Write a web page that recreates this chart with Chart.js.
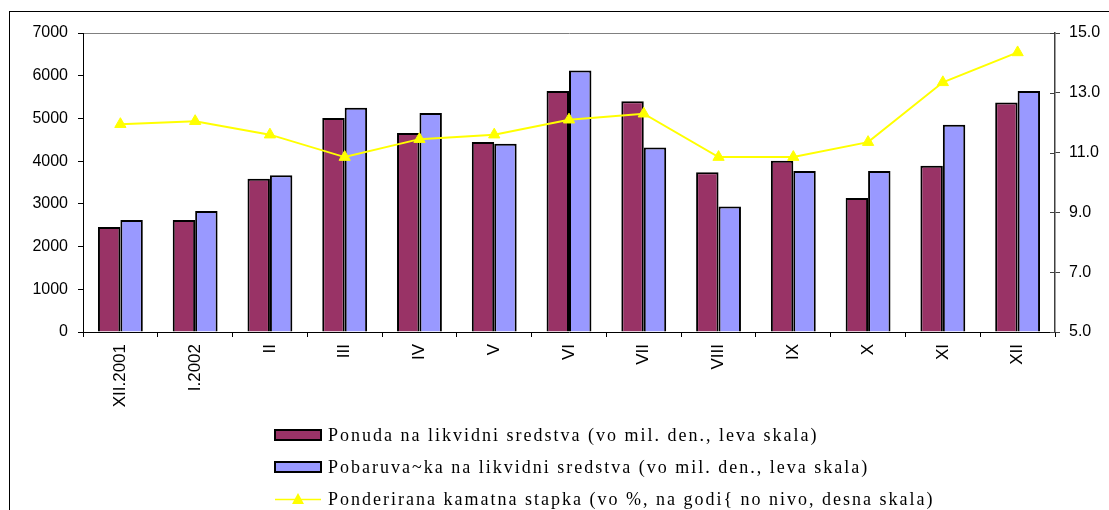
<!DOCTYPE html>
<html>
<head>
<meta charset="utf-8">
<script src="https://cdn.jsdelivr.net/npm/chart.js@4/dist/chart.umd.min.js"></script>
<style>
  html, body { margin: 0; padding: 0; background: #fff; }
  #wrap { width: 1109px; height: 510px; position: relative; }
</style>
</head>
<body>
<div id="wrap"><canvas id="c" width="1109" height="510"></canvas></div>
<script>
const categories = ['XII.2001', 'I.2002', 'II', 'III', 'IV', 'V', 'VI', 'VII', 'VIII', 'IX', 'X', 'XI', 'XII'];
const supplyValues = [2460, 2620, 3590, 5010, 4660, 4450, 5640, 5400, 3740, 4010, 3140, 3890, 5370];
const demandValues = [2620, 2830, 3670, 5250, 5130, 4410, 6120, 4320, 2940, 3770, 3770, 4850, 5640];
const rateValues = [11.95, 12.05, 11.6, 10.85, 11.45, 11.6, 12.1, 12.3, 10.85, 10.85, 11.35, 13.35, 14.35];
const leftAxisRange = [0, 7000, 1000];
const rightAxisRange = [5, 15, 2];
const seriesNames = [
  'Ponuda na likvidni sredstva (vo mil. den., leva skala)',
  'Pobaruva~ka na likvidni sredstva (vo mil. den., leva skala)',
  'Ponderirana kamatna stapka (vo %, na godi{ no nivo, desna skala)'
];

const frame = {
  id: 'frame',
  beforeDraw(chart) {
    const ctx = chart.ctx;
    ctx.save();
    ctx.fillStyle = '#fff';
    ctx.fillRect(0, 0, chart.width, chart.height);
    ctx.strokeStyle = '#000';
    ctx.lineWidth = 1;
    ctx.strokeRect(9.5, 11.5, 1300, 700);
    ctx.restore();
  },
  afterDraw(chart) {
    const ctx = chart.ctx;
    const ys = chart.scales.yR;
    ctx.save();
    ctx.strokeStyle = '#404040';
    ctx.lineWidth = 1;
    ys.ticks.forEach(t => {
      const y = Math.round(ys.getPixelForValue(t.value)) + 0.5;
      ctx.beginPath();
      ctx.moveTo(ys.left - 5, y);
      ctx.lineTo(ys.left, y);
      ctx.stroke();
    });
    const rows = [435, 467, 499];
    const x0 = 275, w = 46;
    ctx.font = '18px "Liberation Serif", "Times New Roman", serif';
    ctx.textBaseline = 'middle';
    ctx.textAlign = 'left';
    try { ctx.letterSpacing = '2px'; } catch (e) {}
    chart.data.datasets.forEach((ds, i) => {
      const y = rows[i];
      if (ds.type === 'line') {
        ctx.strokeStyle = ds.borderColor;
        ctx.lineWidth = 1.5;
        ctx.beginPath();
        ctx.moveTo(x0, y + 0.5);
        ctx.lineTo(x0 + w, y + 0.5);
        ctx.stroke();
        ctx.fillStyle = ds.pointBackgroundColor;
        ctx.beginPath();
        ctx.moveTo(x0 + w / 2, y - 6);
        ctx.lineTo(x0 + w / 2 + 6, y + 5);
        ctx.lineTo(x0 + w / 2 - 6, y + 5);
        ctx.closePath();
        ctx.fill();
      } else {
        ctx.fillStyle = ds.backgroundColor;
        ctx.fillRect(x0, y - 5, w, 10);
        ctx.strokeStyle = '#000';
        ctx.lineWidth = 2;
        ctx.strokeRect(x0, y - 5, w, 10);
      }
      ctx.fillStyle = '#000';
      ctx.fillText(ds.label, 328, y + 1);
    });
    ctx.restore();
  }
};

new Chart(document.getElementById('c'), {
  data: {
    labels: categories,
    datasets: [
      {
        type: 'bar', label: seriesNames[0], data: supplyValues, yAxisID: 'yL',
        backgroundColor: '#993366', borderColor: '#000', borderWidth: 2,
        categoryPercentage: 0.6, barPercentage: 1.0, order: 2
      },
      {
        type: 'bar', label: seriesNames[1], data: demandValues, yAxisID: 'yL',
        backgroundColor: '#9999FF', borderColor: '#000', borderWidth: 2,
        categoryPercentage: 0.6, barPercentage: 1.0, order: 2
      },
      {
        type: 'line', label: seriesNames[2], data: rateValues, yAxisID: 'yR',
        borderColor: '#FFFF00', borderWidth: 2, pointStyle: 'triangle',
        pointRadius: 6.5, pointBackgroundColor: '#FFFF00', pointBorderColor: '#FFFF00',
        pointBorderWidth: 1, tension: 0, fill: false, order: 1
      }
    ]
  },
  options: {
    responsive: false,
    animation: false,
    layout: { padding: { top: 33, left: 0, right: 0, bottom: 0 } },
    plugins: { legend: { display: false }, tooltip: { enabled: false }, title: { display: false } },
    scales: {
      x: {
        offset: true,
        grid: { offset: true, drawOnChartArea: false, tickLength: 5, tickColor: '#000' },
        border: { color: '#000', width: 1 },
        ticks: {
          minRotation: 90, maxRotation: 90, autoSkip: false, padding: 7,
          color: '#000', font: { family: 'Liberation Sans', size: 17 }
        },
        afterFit(s) { s.height = 178; }
      },
      yL: {
        position: 'left',
        min: leftAxisRange[0], max: leftAxisRange[1],
        grid: {
          color: c => (c.tick && c.tick.value === leftAxisRange[1]) ? '#808080' : 'rgba(0,0,0,0)',
          tickColor: '#000', tickLength: 5, lineWidth: 1
        },
        border: { color: '#000', width: 1 },
        ticks: {
          stepSize: leftAxisRange[2], padding: 10, color: '#000',
          font: { family: 'Liberation Sans', size: 16 },
          callback: v => String(v)
        },
        afterFit(s) { s.width = 83; }
      },
      yR: {
        position: 'right',
        min: rightAxisRange[0], max: rightAxisRange[1],
        grid: { drawOnChartArea: false, tickColor: '#404040', tickLength: 5 },
        border: { color: '#404040', width: 1.5 },
        ticks: {
          stepSize: rightAxisRange[2], padding: 9, color: '#000',
          font: { family: 'Liberation Sans', size: 16 },
          callback: v => Number(v).toFixed(1)
        },
        afterFit(s) { s.width = 54; }
      }
    }
  },
  plugins: [frame]
});
</script>
</body>
</html>
